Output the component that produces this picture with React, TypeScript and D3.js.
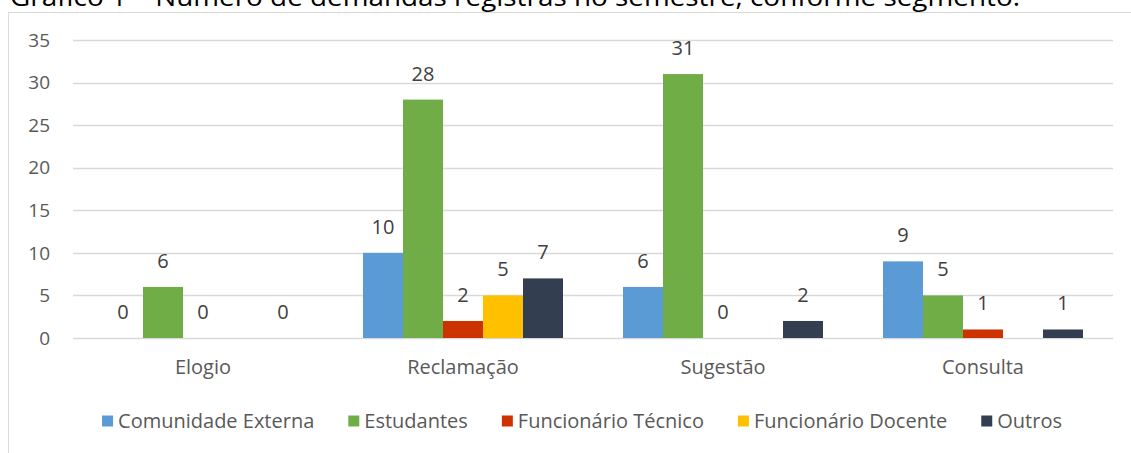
import React, { useEffect, useRef } from "react";
import * as d3 from "d3";

const categories = ["Elogio", "Reclamação", "Sugestão", "Consulta"];
const seriesNames = ["Comunidade Externa", "Estudantes", "Funcionário Técnico", "Funcionário Docente", "Outros"];
const comunidadeExterna = [0, 10, 6, 9];
const estudantes = [6, 28, 31, 5];
const funcionarioTecnico = [0, 2, 0, 1];
const funcionarioDocente: (number | null)[] = [null, 5, null, null];
const outros = [0, 7, 2, 1];
const yTicks = [0, 5, 10, 15, 20, 25, 30, 35];
const colors = ["#5B9BD5", "#70AD47", "#CC3300", "#FFC000", "#333F50"];
const title = "Gráfico 1 – Número de demandas registras no semestre, conforme segmento.";

const seriesValues = [comunidadeExterna, estudantes, funcionarioTecnico, funcionarioDocente, outros];

export default function App() {
  const ref = useRef<SVGSVGElement>(null);
  useEffect(() => {
    const svg = d3.select(ref.current);
    svg.selectAll("*").remove();
    const W = 1131, H = 453;
    const font = "'Open Sans', sans-serif";
    const left = 73, right = 1113, top = 40, bottom = 338;

    // title (cut off at the top edge, as in the reference)
    svg.append("text").attr("x", 10).attr("y", 6).attr("font-family", font)
      .attr("font-size", 26).attr("textLength", 1010).attr("lengthAdjust", "spacingAndGlyphs")
      .attr("fill", "#000").text(title);

    // frame
    svg.append("rect").attr("x", 8.5).attr("y", 12.5).attr("width", W + 20).attr("height", H + 20)
      .attr("fill", "white").attr("stroke", "#D9D9D9").attr("stroke-width", 1);

    const x0 = d3.scaleBand<string>().domain(categories).range([left, right]).paddingInner(0).paddingOuter(0);
    const x1 = d3.scaleBand<string>().domain(seriesNames).range([30, 230]).padding(0);
    const y = d3.scaleLinear().domain([0, 35]).range([bottom, top]);

    const g = svg.append("g");
    yTicks.forEach(t => {
      g.append("line").attr("x1", left).attr("x2", right).attr("y1", Math.round(y(t)) + 0.5).attr("y2", Math.round(y(t)) + 0.5)
        .attr("stroke", "#D9D9D9").attr("stroke-width", 1.5);
      g.append("text").attr("x", 50).attr("y", y(t)).attr("dy", "0.35em").attr("text-anchor", "end")
        .attr("font-family", font).attr("font-size", 19).attr("fill", "#595959").text(String(t));
    });

    categories.forEach((c, ci) => {
      g.append("text").attr("x", (x0(c) as number) + x0.bandwidth() / 2).attr("y", 367).attr("dy", "0.35em")
        .attr("text-anchor", "middle").attr("font-family", font).attr("font-size", 20).attr("fill", "#595959").text(c);
      seriesNames.forEach((s, si) => {
        const v = seriesValues[si][ci];
        if (v === null || v === undefined) return;
        const bx = (x0(c) as number) + (x1(s) as number);
        if (v > 0) {
          g.append("rect").attr("x", bx).attr("y", y(v)).attr("width", x1.bandwidth()).attr("height", y(0) - y(v))
            .attr("fill", colors[si]);
        }
        g.append("text").attr("x", bx + x1.bandwidth() / 2).attr("y", y(v) - 26).attr("dy", "0.35em")
          .attr("text-anchor", "middle").attr("font-family", font).attr("font-size", 20).attr("fill", "#404040").text(String(v));
      });
    });

    // legend
    const lg = svg.append("g");
    const sq = 11, gapText = 5, gapItem = 34;
    const items = seriesNames.map((s, i) => {
      const it = lg.append("g");
      it.append("rect").attr("x", 0).attr("y", -sq / 2).attr("width", sq).attr("height", sq).attr("fill", colors[i]);
      const tx = it.append("text").attr("x", sq + gapText).attr("y", 0).attr("dy", "0.35em")
        .attr("font-family", font).attr("font-size", 20).attr("fill", "#595959").text(s);
      const w = (tx.node() as SVGTextElement).getComputedTextLength();
      return { it, w: sq + gapText + w };
    });
    const total = d3.sum(items, d => d.w) + gapItem * (items.length - 1);
    let cx = 582 - total / 2;
    items.forEach(d => {
      d.it.attr("transform", `translate(${cx},421)`);
      cx += d.w + gapItem;
    });
  }, []);
  return <svg ref={ref} width={1131} height={453} style={{ display: "block", position: "absolute", left: 0, top: 0 }} />;
}
